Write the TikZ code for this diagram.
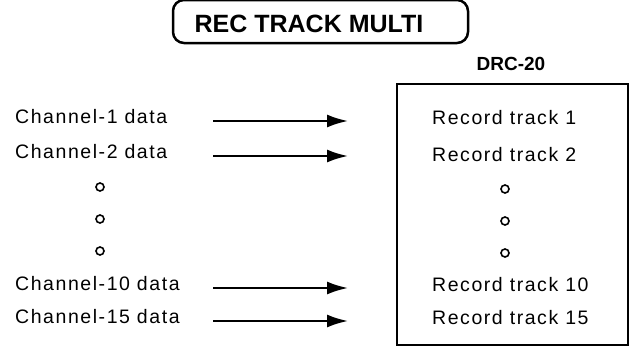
\documentclass[tikz,border=0pt]{standalone}
\usepackage{fontspec}
\setmainfont{Liberation Sans}
\newfontfamily\labfont[LetterSpace=8]{Liberation Sans}
\usetikzlibrary{arrows.meta,positioning}

\begin{document}
\begin{tikzpicture}[>={Latex[length=21pt,width=13pt]},x=1pt,y=-1pt,
 lab/.style={font=\labfont\fontsize{19.5}{22}\selectfont,anchor=west,inner sep=0pt},
 dot/.style={draw,circle,line width=1.6pt,minimum size=8pt,inner sep=0pt},
 feed/.style={->,line width=2.2pt},
 title/.style={draw,rounded corners=11pt,line width=2.5pt,minimum width=295pt,minimum height=43pt}]
\clip (0,0) rectangle (630,346);
\node[title] (rec) at (320.5,21.5) {};
\node[font=\bfseries\fontsize{25}{28}\selectfont,inner sep=0pt] (rectext) at (309,23.5) {REC TRACK MULTI};
\node[draw,line width=2pt,minimum width=231pt,minimum height=261pt,inner sep=0pt] (drc) at (512.5,214.5) {};
\node[font=\bfseries\fontsize{19}{22}\selectfont,inner sep=0pt] (drcname) at (511,64) {DRC-20};
% input side
\node[lab] (ch1) at (15,117) {Channel-1 data};
\node[lab] (ch2) at (15,152) {Channel-2 data};
\node[dot] (cd1) at (100,187) {};
\node[dot] (cd2) at (100,219) {};
\node[dot] (cd3) at (100,251) {};
\node[lab] (ch10) at (15,284) {Channel-10 data};
\node[lab] (ch15) at (15,317) {Channel-15 data};
% record side
\node[lab] (rt1) at (432,118) {Record track 1};
\node[lab] (rt2) at (432,155) {Record track 2};
\node[dot] (rd1) at (505,189) {};
\node[dot] (rd2) at (505,221) {};
\node[dot] (rd3) at (505,253) {};
\node[lab] (rt10) at (432,285) {Record track 10};
\node[lab] (rt15) at (432,318) {Record track 15};
% arrows
\coordinate (s1) at (213,121);  \coordinate (e1) at (348,121);
\coordinate (s2) at (213,156);  \coordinate (e2) at (348,156);
\coordinate (s10) at (213,288); \coordinate (e10) at (348,288);
\coordinate (s15) at (213,321); \coordinate (e15) at (348,321);
\draw[feed] (s1) -- (e1);
\draw[feed] (s2) -- (e2);
\draw[feed] (s10) -- (e10);
\draw[feed] (s15) -- (e15);
\end{tikzpicture}
\end{document}
